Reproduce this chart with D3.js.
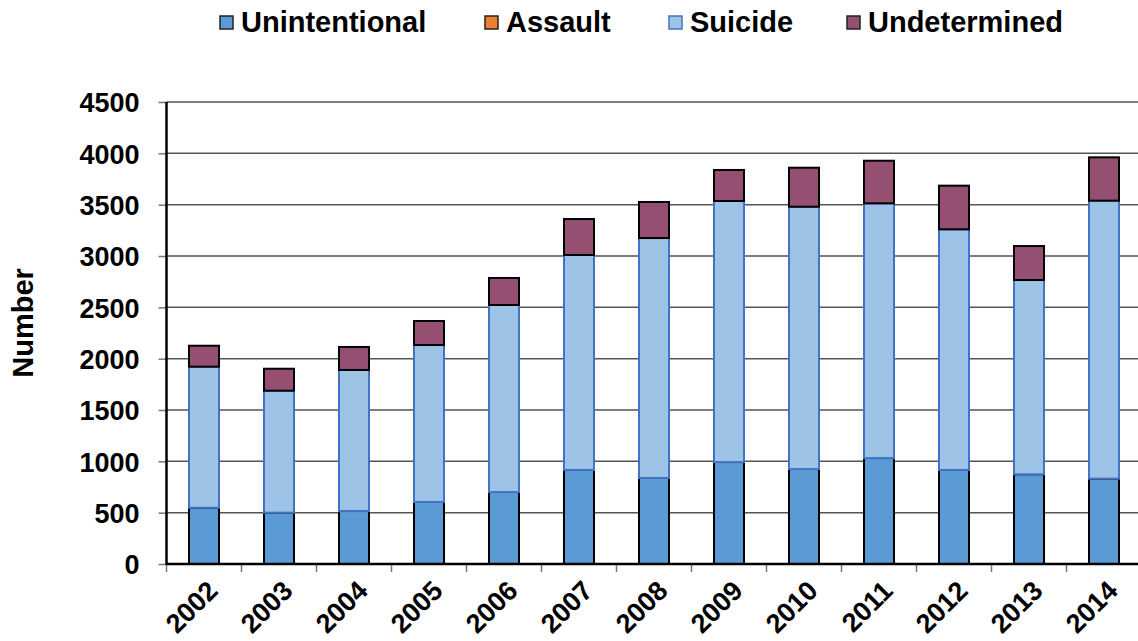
<!DOCTYPE html>
<html>
<head>
<meta charset="utf-8">
<script src="https://cdn.jsdelivr.net/npm/d3@7"></script>
<style>
  body { margin: 0; background: #fff; }
  svg { display: block; font-family: "Liberation Sans", Arial, sans-serif; font-weight: bold; }
</style>
</head>
<body>
<svg width="1138" height="641"></svg>
<script>
const years = ['2002', '2003', '2004', '2005', '2006', '2007', '2008', '2009', '2010', '2011', '2012', '2013', '2014'];
const unintentional = [548, 500, 516, 604, 701, 916, 838, 993, 925, 1032, 916, 874, 831];
const assault = [0, 0, 0, 0, 0, 0, 0, 0, 0, 0, 0, 0, 0];
const suicide = [1374, 1188, 1374, 1529, 1822, 2094, 2337, 2543, 2555, 2481, 2344, 1892, 2708];
const undetermined = [204, 214, 224, 234, 263, 350, 351, 302, 380, 415, 425, 331, 422];
const yTicks = [0, 500, 1000, 1500, 2000, 2500, 3000, 3500, 4000, 4500];

const seriesInfo = [
  { key: 'Unintentional', values: unintentional, fill: '#5b9bd5', stroke: '#000' },
  { key: 'Assault', values: assault, fill: '#ed7d31', stroke: '#000' },
  { key: 'Suicide', values: suicide, fill: '#9dc3e6', stroke: '#4472c4' },
  { key: 'Undetermined', values: undetermined, fill: '#954f72', stroke: '#000' },
];

const svg = d3.select('svg');
const plotLeft = 166.5;
const plotRight = 1141.5;
const plotTop = 102;
const plotBottom = 564;

const rows = years.map((yr, i) => {
  const r = { year: yr };
  seriesInfo.forEach((s) => { r[s.key] = s.values[i]; });
  return r;
});

const x = d3.scaleBand().domain(years).range([plotLeft, plotRight]).paddingInner(0.6).paddingOuter(0.3);
const y = d3.scaleLinear().domain([0, 4500]).range([plotBottom, plotTop]);

// gridlines
svg.append('g')
  .selectAll('line')
  .data(yTicks.filter(d => d > 0))
  .join('line')
  .attr('x1', plotLeft)
  .attr('x2', plotRight)
  .attr('y1', d => y(d))
  .attr('y2', d => y(d))
  .attr('stroke', '#555')
  .attr('stroke-width', 1.5);

// y axis
const yAxis = svg.append('g')
  .attr('transform', `translate(${plotLeft},0)`)
  .call(d3.axisLeft(y).tickValues(yTicks).tickSize(8).tickPadding(19).tickFormat(d3.format('d')));
yAxis.select('.domain').remove();
yAxis.selectAll('.tick line').attr('stroke', '#777').attr('stroke-width', 1.5);
yAxis.selectAll('.tick text')
  .attr('font-size', 27)
  .attr('font-weight', 'bold')
  .attr('fill', '#000')
  .attr('dy', '0.36em')
  .attr('font-family', '"Liberation Sans", Arial, sans-serif');

// bars
const stack = d3.stack().keys(seriesInfo.map(s => s.key));
const stacked = stack(rows);

svg.append('g')
  .selectAll('g')
  .data(stacked)
  .join('g')
  .attr('fill', (d, i) => seriesInfo[i].fill)
  .attr('stroke', (d, i) => seriesInfo[i].stroke)
  .attr('stroke-width', 2)
  .selectAll('rect')
  .data(d => d.filter(p => p[1] - p[0] > 0))
  .join('rect')
  .attr('x', d => x(d.data.year))
  .attr('width', x.bandwidth())
  .attr('y', d => y(d[1]))
  .attr('height', d => y(d[0]) - y(d[1]));

// x ticks at category boundaries
const step = x.step();
const bounds = years.map((yr, i) => plotLeft + i * step);
svg.append('g')
  .selectAll('line')
  .data(bounds)
  .join('line')
  .attr('x1', d => d)
  .attr('x2', d => d)
  .attr('y1', plotBottom)
  .attr('y2', plotBottom + 8)
  .attr('stroke', '#777')
  .attr('stroke-width', 1.5);

// axis lines
svg.append('line')
  .attr('x1', plotLeft).attr('x2', plotLeft)
  .attr('y1', plotTop).attr('y2', plotBottom + 1)
  .attr('stroke', '#000').attr('stroke-width', 2.5);
svg.append('line')
  .attr('x1', plotLeft).attr('x2', 1138)
  .attr('y1', plotBottom).attr('y2', plotBottom)
  .attr('stroke', '#000').attr('stroke-width', 2.5);

// x labels
svg.append('g')
  .selectAll('text')
  .data(years)
  .join('text')
  .attr('transform', d => `translate(${x(d) + x.bandwidth() / 2 + 2},${plotBottom + 15}) rotate(-45)`)
  .attr('text-anchor', 'end')
  .attr('font-size', 27)
  .attr('dy', '0.7em')
  .text(d => d);

// y title
svg.append('text')
  .attr('transform', 'translate(33,323) rotate(-90)')
  .attr('text-anchor', 'middle')
  .attr('font-size', 29)
  .text('Number');

// legend
const legendX = [220, 485, 669, 847];
const legend = svg.append('g')
  .selectAll('g')
  .data(seriesInfo)
  .join('g')
  .attr('transform', (d, i) => `translate(${legendX[i]},0)`);
legend.append('rect')
  .attr('x', 0)
  .attr('y', 16)
  .attr('width', 13)
  .attr('height', 13)
  .attr('fill', d => d.fill)
  .attr('stroke', d => (d.key === 'Suicide' ? '#4472c4' : '#222'))
  .attr('stroke-width', 1.5);
legend.append('text')
  .attr('x', 21)
  .attr('y', 32)
  .attr('font-size', 29)
  .text(d => d.key);
</script>
</body>
</html>
